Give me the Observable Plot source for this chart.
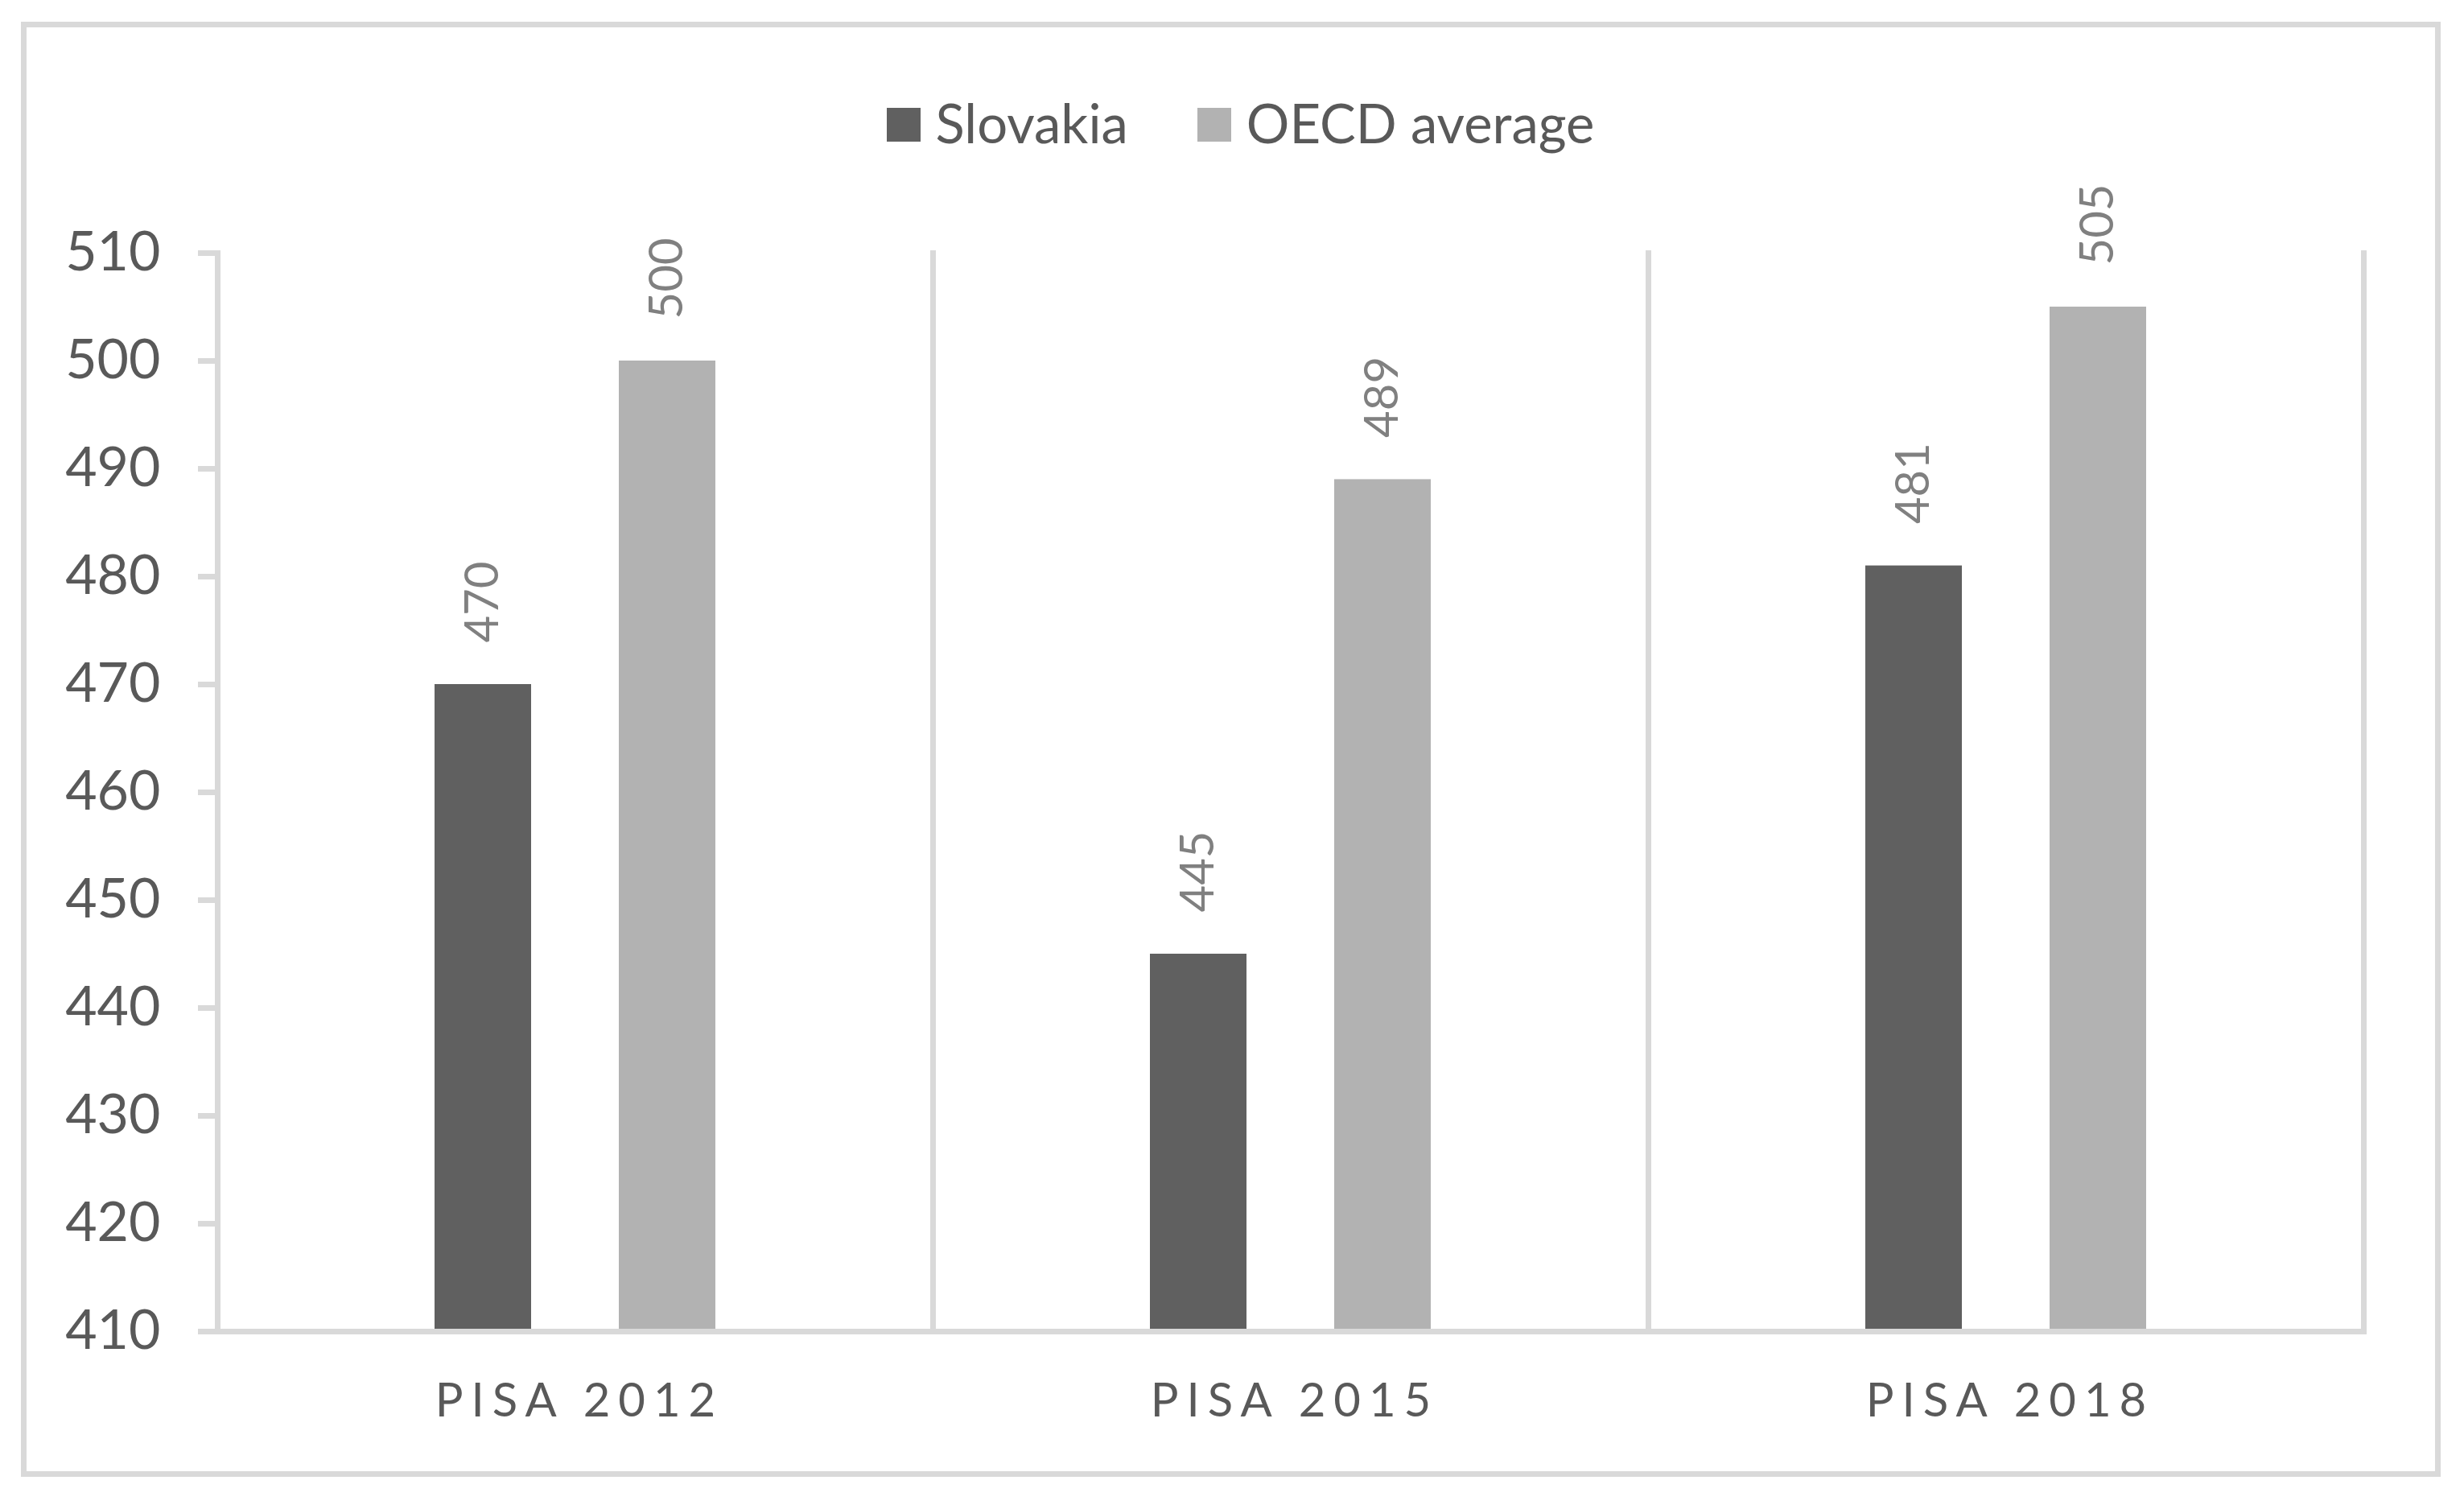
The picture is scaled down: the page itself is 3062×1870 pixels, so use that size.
<!DOCTYPE html>
<html>
<head>
<meta charset="utf-8">
<script src="https://cdn.jsdelivr.net/npm/d3@7"></script>
<script src="https://cdn.jsdelivr.net/npm/@observablehq/plot@0.6"></script>
<style>
  html, body { margin: 0; padding: 0; background: #fff; }
  #chart {
    position: absolute; left: 26px; top: 27px;
    width: 3007px; height: 1808px; box-sizing: border-box;
    border: 7px solid #d9d9d9; background: #fff;
    font-family: Lato, "Open Sans", sans-serif;
  }
  #legend {
    height: 180px; box-sizing: border-box; padding-top: 56px; padding-left: 24px;
    display: flex; justify-content: center; align-items: center;
    font-size: 67px; color: #595959; font-family: Lato, sans-serif;
  }
  .item { display: flex; align-items: center; margin: 0 43px; }
  .sw { width: 42px; height: 42px; margin-right: 19px; margin-top: 6px; }
  svg { overflow: visible; display: block; }
</style>
</head>
<body>
<div id="chart"><div id="legend"></div></div>
<script>
const tests = ["PISA 2012", "PISA 2015", "PISA 2018"];
const series = ["Slovakia", "OECD average"];
const slovakia = [470, 445, 481];
const oecd = [500, 489, 505];
const yDomain = [410, 510];
const yTicks = [410, 420, 430, 440, 450, 460, 470, 480, 490, 500, 510];
const colors = ["#606060", "#b2b2b2"];

const data = [];
tests.forEach((t, i) => {
  data.push({test: t, series: series[0], value: slovakia[i]});
  data.push({test: t, series: series[1], value: oecd[i]});
});

// legend
const legend = document.getElementById("legend");
series.forEach((s, i) => {
  const it = document.createElement("div");
  it.className = "item";
  const sw = document.createElement("div");
  sw.className = "sw";
  sw.style.background = colors[i];
  const lb = document.createElement("span");
  lb.textContent = s;
  it.appendChild(sw); it.appendChild(lb);
  legend.appendChild(it);
});

const grey = "#d9d9d9";
const textColor = "#595959";

const plot = Plot.plot({
  width: 2993,
  height: 1615,
  marginTop: 100,
  marginBottom: 175,
  marginLeft: 236,
  marginRight: 89,
  style: {fontFamily: "Lato, sans-serif", background: "transparent"},
  fx: {domain: tests, padding: 0, label: null},
  x: {domain: series, paddingInner: 0.474, paddingOuter: 1.17, axis: null},
  y: {domain: yDomain, label: null},
  color: {domain: series, range: colors},
  marks: [
    Plot.frame({anchor: "left", stroke: grey, strokeWidth: 7}),
    Plot.frame({anchor: "right", stroke: grey, strokeWidth: 7}),
    Plot.barY(data, {fx: "test", x: "series", y1: () => yDomain[0], y2: "value", fill: "series"}),
    Plot.text(data, {
      fx: "test", x: "series", y: "value", text: d => String(d.value),
      rotate: -90, textAnchor: "start", dy: -52,
      fill: "#808080", fontSize: 58
    }),
    Plot.axisY({ticks: yTicks, tickSize: 24, tickFormat: () => "", stroke: grey, color: grey, strokeWidth: 7}),
    Plot.axisY({ticks: yTicks, tickSize: 0, tickPadding: 71, color: textColor, fontSize: 68}),
    Plot.frame({anchor: "bottom", stroke: grey, strokeWidth: 7}),
    Plot.axisFx({anchor: "bottom", tickSize: 0, tickPadding: 64, color: textColor, fontSize: 58, label: null})
  ]
});
document.getElementById("chart").appendChild(plot);
plot.querySelectorAll('g[aria-label="fx-axis tick label"] text').forEach(t => {
  t.setAttribute("letter-spacing", "10px");
  t.setAttribute("dx", "5");
});
</script>
</body>
</html>
